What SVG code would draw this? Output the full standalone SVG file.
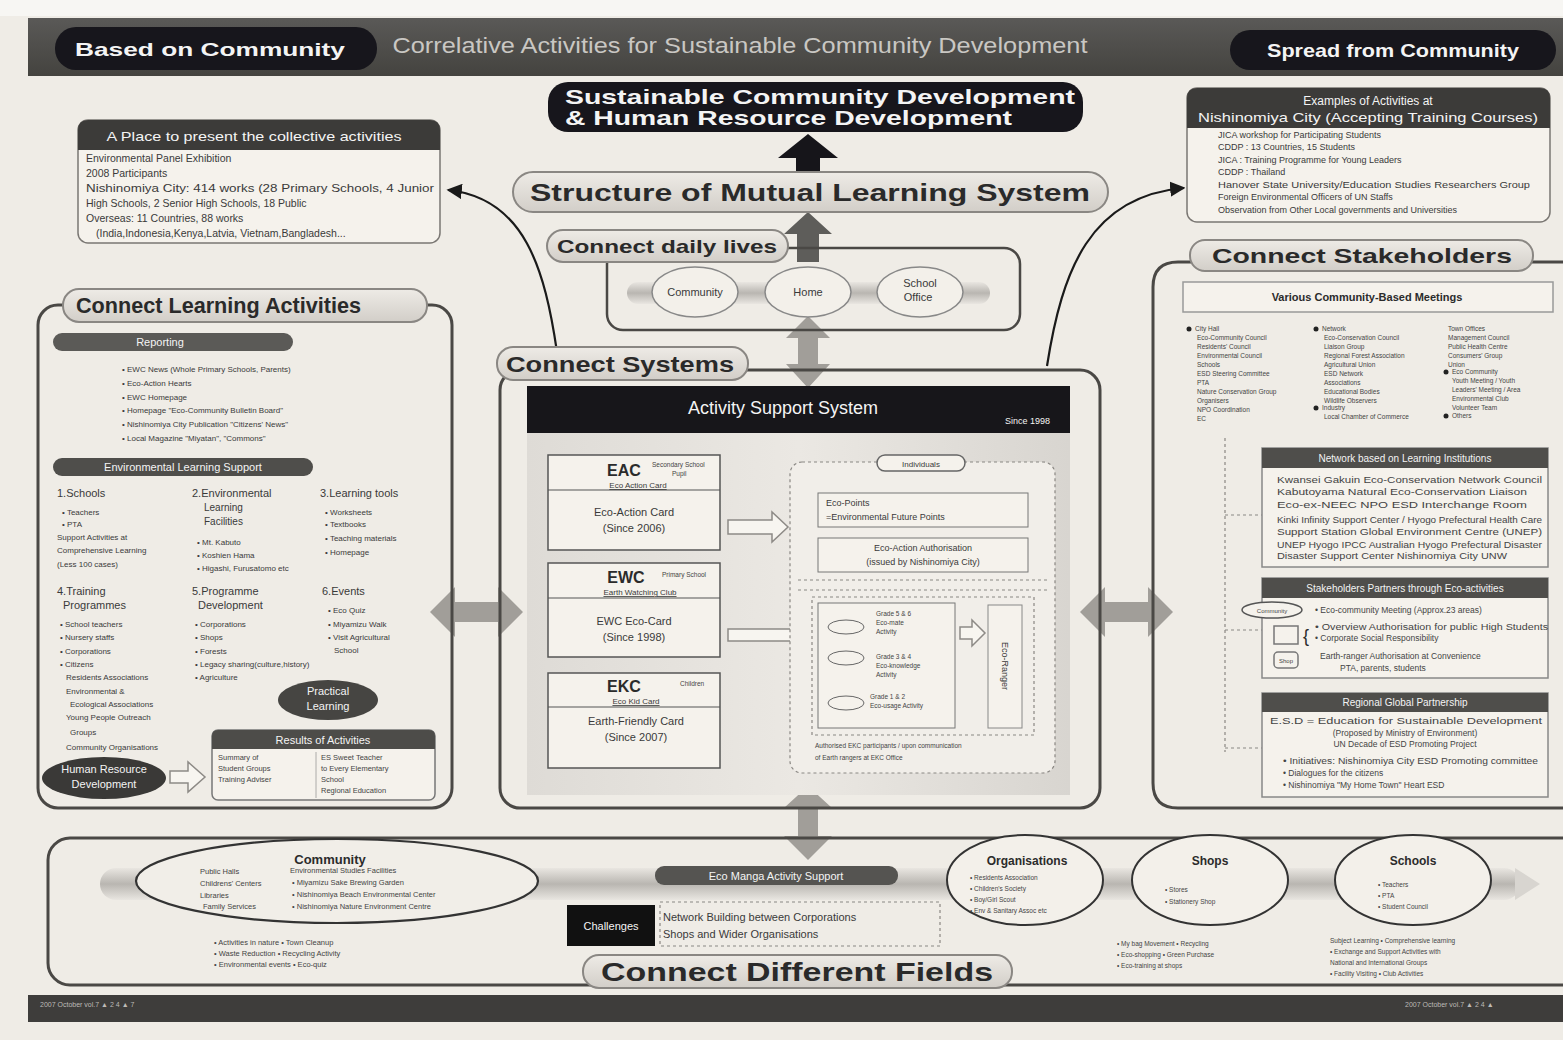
<svg xmlns="http://www.w3.org/2000/svg" width="1563" height="1040" viewBox="0 0 1563 1040">
<defs>
<style>
text{font-family:"Liberation Sans",Arial,sans-serif;fill:#2b2b2b}
.s{font-size:10px;fill:#3a3a3a}
.xs{font-size:8px;fill:#3a3a3a}
.xxs{font-size:6.5px;fill:#444}
.w{fill:#f4f4f4}
.b{font-weight:bold}
.ttl{font-weight:bold;font-size:23px;fill:#2a2a2a}
.pill{fill:url(#pillg);stroke:#8a8783;stroke-width:2}
.frame{fill:none;stroke:#4a4845;stroke-width:3}
.dark{fill:#3c3b39}
.blk{fill:#17161c}
.box{fill:#f5f2ec;stroke:#7a7773;stroke-width:1.5}
.dash{fill:none;stroke:#8a8783;stroke-width:1.2;stroke-dasharray:3 3}
.garr{fill:#a19e99}
.hollow{fill:#f7f5f0;stroke:#8d8a86;stroke-width:1.5}
.oval{fill:#f3f0ea;stroke:#555;stroke-width:2}
</style>
<linearGradient id="pillg" x1="0" y1="0" x2="0" y2="1"><stop offset="0" stop-color="#eeebe6"/><stop offset="1" stop-color="#d2cec8"/></linearGradient>
<linearGradient id="band" x1="0" y1="0" x2="0" y2="1"><stop offset="0" stop-color="#e9e6e1"/><stop offset="0.5" stop-color="#b9b6b1"/><stop offset="1" stop-color="#e9e6e1"/></linearGradient>
<linearGradient id="topbar" x1="0" y1="0" x2="0" y2="1"><stop offset="0" stop-color="#5a5957"/><stop offset="1" stop-color="#44433f"/></linearGradient>
<linearGradient id="panel" x1="0" y1="0" x2="1" y2="0"><stop offset="0" stop-color="#dedbd6"/><stop offset="0.5" stop-color="#ebe8e3"/><stop offset="1" stop-color="#d8d5d0"/></linearGradient>
<marker id="ah" viewBox="0 0 10 10" refX="9" refY="5" markerWidth="7" markerHeight="7" orient="auto"><path d="M0,0 L10,5 L0,10 z" fill="#1a1a1a"/></marker>
</defs>

<rect x="0" y="0" width="1563" height="1040" fill="#efece6"/>
<rect x="0" y="0" width="1563" height="16" fill="#f7f6f3"/>

<g id="header">
<rect x="28" y="18" width="1535" height="58" fill="url(#topbar)"/>
<rect x="55" y="27" width="322" height="43" rx="21" class="blk"/>
<text x="210" y="56" text-anchor="middle" class="w b" font-size="19" textLength="270" lengthAdjust="spacingAndGlyphs">Based on Community</text>
<text x="740" y="53" text-anchor="middle" font-size="22" style="fill:#c9c7c3" textLength="695" lengthAdjust="spacingAndGlyphs">Correlative Activities for Sustainable Community Development</text>
<rect x="1230" y="30" width="326" height="40" rx="20" class="blk"/>
<text x="1393" y="57" text-anchor="middle" class="w b" font-size="19" textLength="252" lengthAdjust="spacingAndGlyphs">Spread from Community</text>
</g>

<g id="goal">
<rect x="548" y="82" width="535" height="50" rx="20" class="blk"/>
<text x="820" y="104" text-anchor="middle" class="w b" font-size="21" textLength="510" lengthAdjust="spacingAndGlyphs">Sustainable Community Development</text>
<text x="565" y="125" class="w b" font-size="21" textLength="447" lengthAdjust="spacingAndGlyphs">&amp; Human Resource Development</text>
</g>

<g id="connectors">
<polygon points="808,134 838,158 820,158 820,176 796,176 796,158 778,158" fill="#16151a"/>
<polygon points="808,212 832,234 819,234 819,262 797,262 797,234 784,234" fill="#5e5d5a"/>
<polygon points="808,316 830,338 818,338 818,364 830,364 808,388 786,364 798,364 798,338 786,338" class="garr"/>
<polygon points="808,786 832,808 818,808 818,836 832,836 808,860 784,836 798,836 798,808 784,808" class="garr"/>
<polygon points="430,612 455,587 455,602 498,602 498,587 523,612 498,637 498,622 455,622 455,637" class="garr"/>
<polygon points="1080,612 1105,587 1105,602 1148,602 1148,587 1173,612 1148,637 1148,622 1105,622 1105,637" class="garr"/>
<path d="M557,352 C545,270 525,198 448,190" fill="none" stroke="#1a1a1a" stroke-width="2.2" marker-end="url(#ah)"/>
<path d="M1047,366 C1062,270 1090,196 1184,188" fill="none" stroke="#1a1a1a" stroke-width="2.2" marker-end="url(#ah)"/>
</g>

<g id="structure">
<rect x="513" y="172" width="595" height="40" rx="20" class="pill"/>
<text x="810" y="201" text-anchor="middle" class="ttl" style="font-size:24px" textLength="560" lengthAdjust="spacingAndGlyphs">Structure of Mutual Learning System</text>
</g>

<g id="place">
<rect x="78" y="120" width="362" height="123" rx="10" class="box"/>
<path d="M78,150 V130 Q78,120 88,120 H430 Q440,120 440,130 V150 Z" class="dark"/>
<text x="254" y="141" text-anchor="middle" class="w" font-size="13" textLength="295" lengthAdjust="spacingAndGlyphs">A Place to present the collective activities</text>
<text x="86" y="162" class="s" style="font-size:10.5px">Environmental Panel Exhibition</text>
<text x="86" y="177" class="s" style="font-size:10.5px">2008 Participants</text>
<text x="86" y="192" class="s" style="font-size:10.5px" textLength="348" lengthAdjust="spacingAndGlyphs">Nishinomiya City: 414 works (28 Primary Schools, 4 Junior</text>
<text x="86" y="207" class="s" style="font-size:10.5px">High Schools, 2 Senior High Schools,  18 Public</text>
<text x="86" y="222" class="s" style="font-size:10.5px">Overseas: 11 Countries, 88 works</text>
<text x="96" y="237" class="s" style="font-size:10.5px">(India,Indonesia,Kenya,Latvia, Vietnam,Bangladesh...</text>
</g>

<g id="examples">
<rect x="1187" y="88" width="363" height="134" rx="10" class="box"/>
<path d="M1187,128 V98 Q1187,88 1197,88 H1540 Q1550,88 1550,98 V128 Z" class="dark"/>
<text x="1368" y="105" text-anchor="middle" class="w" font-size="12">Examples of Activities at</text>
<text x="1368" y="122" text-anchor="middle" class="w" font-size="13" textLength="340" lengthAdjust="spacingAndGlyphs">Nishinomiya City  (Accepting Training Courses)</text>
<text x="1218" y="138" class="xs" style="font-size:9px">JICA workshop for Participating Students</text>
<text x="1218" y="150" class="xs" style="font-size:9px">CDDP : 13 Countries, 15 Students</text>
<text x="1218" y="163" class="xs" style="font-size:9px">JICA : Training Programme for Young Leaders</text>
<text x="1218" y="175" class="xs" style="font-size:9px">CDDP : Thailand</text>
<text x="1218" y="188" class="xs" style="font-size:9px" textLength="312" lengthAdjust="spacingAndGlyphs">Hanover State University/Education Studies Researchers Group</text>
<text x="1218" y="200" class="xs" style="font-size:9px">Foreign Environmental Officers of UN Staffs</text>
<text x="1218" y="213" class="xs" style="font-size:9px">Observation from Other Local governments and Universities</text>
</g>

<g id="daily">
<rect x="607" y="248" width="413" height="82" rx="16" class="frame" style="stroke-width:2.5"/>
<rect x="627" y="282" width="363" height="22" rx="11" fill="url(#band)"/>
<ellipse cx="695" cy="292" rx="43" ry="25" class="oval" style="stroke:#888;stroke-width:1.5"/>
<ellipse cx="808" cy="292" rx="43" ry="25" class="oval" style="stroke:#888;stroke-width:1.5"/>
<ellipse cx="920" cy="292" rx="43" ry="25" class="oval" style="stroke:#888;stroke-width:1.5"/>
<text x="695" y="296" text-anchor="middle" class="s" style="font-size:11px">Community</text>
<text x="808" y="296" text-anchor="middle" class="s" style="font-size:11px">Home</text>
<text x="920" y="287" text-anchor="middle" class="s" style="font-size:11px">School</text>
<text x="918" y="301" text-anchor="middle" class="s" style="font-size:11px">Office</text>
<rect x="547" y="230" width="241" height="32" rx="16" class="pill"/>
<text x="667" y="253" text-anchor="middle" class="ttl" style="font-size:19px" textLength="220" lengthAdjust="spacingAndGlyphs">Connect daily lives</text>
</g>

<g id="systems">
<rect x="500" y="370" width="600" height="438" rx="20" class="frame"/>
<rect x="527" y="432" width="543" height="363" fill="url(#panel)"/>
<rect x="527" y="386" width="543" height="47" fill="#17161a"/>
<text x="783" y="414" text-anchor="middle" class="w" font-size="18">Activity Support System</text>
<text x="1005" y="424" class="w" font-size="9">Since 1998</text>
<rect x="497" y="347" width="251" height="33" rx="16" class="pill"/>
<text x="620" y="372" text-anchor="middle" class="ttl" style="font-size:22px" textLength="228" lengthAdjust="spacingAndGlyphs">Connect Systems</text>

<g id="eac">
<rect x="548" y="455" width="172" height="95" class="box" style="stroke:#555"/>
<line x1="548" y1="490" x2="720" y2="490" stroke="#555" stroke-width="1.2"/>
<text x="624" y="476" text-anchor="middle" class="b" font-size="16">EAC</text>
<text x="652" y="467" class="xxs">Secondary School</text>
<text x="672" y="476" class="xxs">Pupil</text>
<text x="638" y="488" text-anchor="middle" class="xs" text-decoration="underline">Eco Action Card</text>
<text x="634" y="516" text-anchor="middle" class="s" style="font-size:11px">Eco-Action Card</text>
<text x="634" y="532" text-anchor="middle" class="s" style="font-size:11px">(Since 2006)</text>
</g>
<g id="ewc">
<rect x="548" y="563" width="172" height="94" class="box" style="stroke:#555"/>
<line x1="548" y1="598" x2="720" y2="598" stroke="#555" stroke-width="1.2"/>
<text x="626" y="583" text-anchor="middle" class="b" font-size="16">EWC</text>
<text x="662" y="577" class="xxs">Primary School</text>
<text x="640" y="595" text-anchor="middle" class="xs" text-decoration="underline">Earth Watching Club</text>
<text x="634" y="625" text-anchor="middle" class="s" style="font-size:11px">EWC Eco-Card</text>
<text x="634" y="641" text-anchor="middle" class="s" style="font-size:11px">(Since 1998)</text>
</g>
<g id="ekc">
<rect x="548" y="673" width="172" height="95" class="box" style="stroke:#555"/>
<line x1="548" y1="707" x2="720" y2="707" stroke="#555" stroke-width="1.2"/>
<text x="624" y="692" text-anchor="middle" class="b" font-size="16">EKC</text>
<text x="680" y="686" class="xxs">Children</text>
<text x="636" y="704" text-anchor="middle" class="xs" text-decoration="underline">Eco Kid Card</text>
<text x="636" y="725" text-anchor="middle" class="s" style="font-size:11px">Earth-Friendly Card</text>
<text x="636" y="741" text-anchor="middle" class="s" style="font-size:11px">(Since 2007)</text>
</g>
<polygon points="728,520 772,520 772,512 788,527 772,542 772,534 728,534" class="hollow"/>
<rect x="728" y="629" width="102" height="12" class="hollow"/>

<g id="individuals">
<rect x="790" y="462" width="265" height="311" rx="12" class="dash" style="fill:#f1eee9"/>
<rect x="877" y="455" width="88" height="16" rx="8" class="box" style="stroke:#666"/>
<text x="921" y="467" text-anchor="middle" class="xs">Individuals</text>
<rect x="818" y="493" width="210" height="34" class="box" style="stroke:#777;stroke-width:1"/>
<text x="826" y="506" class="xs" style="font-size:9px">Eco-Points</text>
<text x="826" y="520" class="xs" style="font-size:9px">=Environmental Future Points</text>
<rect x="818" y="538" width="210" height="34" class="box" style="stroke:#777;stroke-width:1"/>
<text x="923" y="551" text-anchor="middle" class="xs" style="font-size:9px">Eco-Action Authorisation</text>
<text x="923" y="565" text-anchor="middle" class="xs" style="font-size:9px">(issued by Nishinomiya City)</text>
<line x1="798" y1="580" x2="1048" y2="580" class="dash"/>
<line x1="798" y1="590" x2="1048" y2="590" class="dash"/>
<rect x="812" y="597" width="222" height="138" class="dash"/>
<rect x="818" y="603" width="137" height="125" class="box" style="stroke:#777;stroke-width:1"/>
<ellipse cx="846" cy="627" rx="18" ry="7" class="box" style="stroke:#666;stroke-width:1"/>
<ellipse cx="846" cy="658" rx="18" ry="7" class="box" style="stroke:#666;stroke-width:1"/>
<ellipse cx="846" cy="703" rx="18" ry="7" class="box" style="stroke:#666;stroke-width:1"/>
<text x="876" y="616" class="xxs">Grade 5 &amp; 6</text>
<text x="876" y="625" class="xxs">Eco-mate</text>
<text x="876" y="634" class="xxs">Activity</text>
<text x="876" y="659" class="xxs">Grade 3 &amp; 4</text>
<text x="876" y="668" class="xxs">Eco-knowledge</text>
<text x="876" y="677" class="xxs">Activity</text>
<text x="870" y="699" class="xxs">Grade 1 &amp; 2</text>
<text x="870" y="708" class="xxs">Eco-usage Activity</text>
<polygon points="960,627 972,627 972,620 985,633 972,646 972,639 960,639" class="hollow"/>
<rect x="988" y="605" width="34" height="123" class="box" style="stroke:#888;stroke-width:1"/>
<text transform="translate(1002,666) rotate(90)" text-anchor="middle" class="xs" style="font-size:9px">Eco-Ranger</text>
<text x="815" y="748" class="xxs">Authorised EKC participants / upon communication</text>
<text x="815" y="760" class="xxs">of Earth rangers at EKC Office</text>
</g>
</g>

<g id="learning">
<rect x="38" y="305" width="414" height="503" rx="20" class="frame"/>
<rect x="63" y="289" width="364" height="33" rx="16" class="pill"/>
<text x="76" y="313" class="ttl" style="font-size:22px" textLength="285" lengthAdjust="spacingAndGlyphs">Connect Learning Activities</text>
<rect x="53" y="333" width="240" height="18" rx="9" fill="#5b5a57"/>
<text x="160" y="346" text-anchor="middle" class="w" font-size="11">Reporting</text>
<text x="122" y="372" class="xs">• EWC News  (Whole Primary Schools, Parents)</text>
<text x="122" y="386" class="xs">• Eco-Action Hearts</text>
<text x="122" y="400" class="xs">• EWC Homepage</text>
<text x="122" y="413" class="xs">• Homepage "Eco-Community Bulletin Board"</text>
<text x="122" y="427" class="xs">• Nishinomiya City Publication "Citizens' News"</text>
<text x="122" y="441" class="xs">• Local Magazine "Miyatan", "Commons"</text>
<rect x="53" y="458" width="260" height="18" rx="9" fill="#4f4e4b"/>
<text x="183" y="471" text-anchor="middle" class="w" font-size="11">Environmental Learning Support</text>

<text x="57" y="497" class="s" style="font-size:11px">1.Schools</text>
<text x="62" y="515" class="xs">• Teachers</text>
<text x="62" y="527" class="xs">• PTA</text>
<text x="57" y="540" class="xs">Support Activities at</text>
<text x="57" y="553" class="xs">Comprehensive Learning</text>
<text x="57" y="567" class="xs">(Less 100 cases)</text>

<text x="192" y="497" class="s" style="font-size:11px">2.Environmental</text>
<text x="204" y="511" class="s">Learning</text>
<text x="204" y="525" class="s">Facilities</text>
<text x="197" y="545" class="xs">• Mt. Kabuto</text>
<text x="197" y="558" class="xs">• Koshien Hama</text>
<text x="197" y="571" class="xs">• Higashi, Furusatomo etc</text>

<text x="320" y="497" class="s" style="font-size:11px">3.Learning tools</text>
<text x="325" y="515" class="xs">• Worksheets</text>
<text x="325" y="527" class="xs">• Textbooks</text>
<text x="325" y="541" class="xs">• Teaching materials</text>
<text x="325" y="555" class="xs">• Homepage</text>

<text x="57" y="595" class="s" style="font-size:11px">4.Training</text>
<text x="63" y="609" class="s" style="font-size:11px">Programmes</text>
<text x="60" y="627" class="xs">• School teachers</text>
<text x="60" y="640" class="xs">• Nursery staffs</text>
<text x="60" y="654" class="xs">• Corporations</text>
<text x="60" y="667" class="xs">• Citizens</text>
<text x="66" y="680" class="xs">Residents Associations</text>
<text x="66" y="694" class="xs">Environmental &amp;</text>
<text x="70" y="707" class="xs">Ecological Associations</text>
<text x="66" y="720" class="xs">Young People Outreach</text>
<text x="70" y="735" class="xs">Groups</text>
<text x="66" y="750" class="xs">Community Organisations</text>

<text x="192" y="595" class="s" style="font-size:11px">5.Programme</text>
<text x="198" y="609" class="s" style="font-size:11px">Development</text>
<text x="195" y="627" class="xs">• Corporations</text>
<text x="195" y="640" class="xs">• Shops</text>
<text x="195" y="654" class="xs">• Forests</text>
<text x="195" y="667" class="xs">• Legacy sharing(culture,history)</text>
<text x="195" y="680" class="xs">• Agriculture</text>

<text x="322" y="595" class="s" style="font-size:11px">6.Events</text>
<text x="328" y="613" class="xs">• Eco Quiz</text>
<text x="328" y="627" class="xs">• Miyamizu Walk</text>
<text x="328" y="640" class="xs">• Visit Agricultural</text>
<text x="334" y="653" class="xs">School</text>

<ellipse cx="328" cy="700" rx="50" ry="20" fill="#464542"/>
<text x="328" y="695" text-anchor="middle" class="w" font-size="11">Practical</text>
<text x="328" y="710" text-anchor="middle" class="w" font-size="11">Learning</text>

<ellipse cx="104" cy="778" rx="62" ry="21" fill="#3a3937"/>
<text x="104" y="773" text-anchor="middle" class="w" font-size="11">Human Resource</text>
<text x="104" y="788" text-anchor="middle" class="w" font-size="11">Development</text>
<polygon points="170,771 188,771 188,762 205,777 188,792 188,783 170,783" class="hollow"/>

<rect x="212" y="730" width="223" height="70" rx="6" class="box" style="stroke:#777"/>
<path d="M212,749 V736 Q212,730 218,730 H429 Q435,730 435,736 V749 Z" fill="#4d4c49"/>
<text x="323" y="744" text-anchor="middle" class="w" font-size="11">Results of Activities</text>
<line x1="316" y1="752" x2="316" y2="798" stroke="#999" stroke-width="0.8"/>
<text x="218" y="760" class="xxs" style="font-size:7.5px">Summary of</text>
<text x="218" y="771" class="xxs" style="font-size:7.5px">Student Groups</text>
<text x="218" y="782" class="xxs" style="font-size:7.5px">Training Adviser</text>
<text x="321" y="760" class="xxs" style="font-size:7.5px">ES Sweet Teacher</text>
<text x="321" y="771" class="xxs" style="font-size:7.5px">to Every Elementary</text>
<text x="321" y="782" class="xxs" style="font-size:7.5px">School</text>
<text x="321" y="793" class="xxs" style="font-size:7.5px">Regional Education</text>
</g>

<g id="stakeholders">
<path d="M1563,262 H1178 Q1153,262 1153,287 V783 Q1153,808 1178,808 H1563" class="frame"/>
<rect x="1190" y="240" width="343" height="31" rx="15" class="pill"/>
<text x="1362" y="263" text-anchor="middle" class="ttl" style="font-size:21px" textLength="300" lengthAdjust="spacingAndGlyphs">Connect Stakeholders</text>
<rect x="1183" y="282" width="370" height="30" class="box" style="stroke:#999"/>
<text x="1367" y="301" text-anchor="middle" class="b" font-size="11" fill="#3a3a3a">Various Community-Based Meetings</text>

<g id="meetings">
<circle cx="1189" cy="329" r="2.5" fill="#222"/>
<text x="1195" y="331" class="xxs">City Hall</text>
<text x="1197" y="340" class="xxs">Eco-Community Council</text>
<text x="1197" y="349" class="xxs">Residents' Council</text>
<text x="1197" y="358" class="xxs">Environmental Council</text>
<text x="1197" y="367" class="xxs">Schools</text>
<text x="1197" y="376" class="xxs">ESD Steering Committee</text>
<text x="1197" y="385" class="xxs">PTA</text>
<text x="1197" y="394" class="xxs">Nature Conservation Group</text>
<text x="1197" y="403" class="xxs">Organisers</text>
<text x="1197" y="412" class="xxs">NPO Coordination</text>
<text x="1197" y="421" class="xxs">EC</text>
<circle cx="1316" cy="329" r="2.5" fill="#222"/>
<text x="1322" y="331" class="xxs">Network</text>
<text x="1324" y="340" class="xxs">Eco-Conservation Council</text>
<text x="1324" y="349" class="xxs">Liaison Group</text>
<text x="1324" y="358" class="xxs">Regional Forest Association</text>
<text x="1324" y="367" class="xxs">Agricultural Union</text>
<text x="1324" y="376" class="xxs">ESD Network</text>
<text x="1324" y="385" class="xxs">Associations</text>
<text x="1324" y="394" class="xxs">Educational Bodies</text>
<text x="1324" y="403" class="xxs">Wildlife Observers</text>
<circle cx="1316" cy="408" r="2.5" fill="#222"/>
<text x="1322" y="410" class="xxs">Industry</text>
<text x="1324" y="419" class="xxs">Local Chamber of Commerce</text>
<text x="1448" y="331" class="xxs">Town Offices</text>
<text x="1448" y="340" class="xxs">Management Council</text>
<text x="1448" y="349" class="xxs">Public Health Centre</text>
<text x="1448" y="358" class="xxs">Consumers' Group</text>
<text x="1448" y="367" class="xxs">Union</text>
<circle cx="1446" cy="372" r="2.5" fill="#222"/>
<text x="1452" y="374" class="xxs">Eco Community</text>
<text x="1452" y="383" class="xxs">Youth Meeting / Youth</text>
<text x="1452" y="392" class="xxs">Leaders' Meeting / Area</text>
<text x="1452" y="401" class="xxs">Environmental Club</text>
<text x="1452" y="410" class="xxs">Volunteer Team</text>
<circle cx="1446" cy="416" r="2.5" fill="#222"/>
<text x="1452" y="418" class="xxs">Others</text>
</g>

<line x1="1225" y1="438" x2="1225" y2="752" class="dash"/>
<line x1="1225" y1="515" x2="1262" y2="515" class="dash"/>
<line x1="1225" y1="630" x2="1262" y2="630" class="dash"/>
<line x1="1225" y1="748" x2="1262" y2="748" class="dash"/>

<g id="net">
<rect x="1262" y="448" width="286" height="119" class="box" style="stroke:#888"/>
<rect x="1262" y="448" width="286" height="20" fill="#4f4e4b"/>
<text x="1405" y="462" text-anchor="middle" class="w" font-size="10">Network based on Learning Institutions</text>
<text x="1277" y="483" class="xxs" style="font-size:9.5px" textLength="265" lengthAdjust="spacingAndGlyphs">Kwansei Gakuin Eco-Conservation Network Council</text>
<text x="1277" y="495" class="xxs" style="font-size:9.5px" textLength="250" lengthAdjust="spacingAndGlyphs">Kabutoyama Natural Eco-Conservation Liaison</text>
<text x="1277" y="508" class="xxs" style="font-size:9.5px" textLength="250" lengthAdjust="spacingAndGlyphs">Eco-ex-NEEC   NPO   ESD Interchange Room</text>
<text x="1277" y="523" class="xxs" style="font-size:9.5px" textLength="265" lengthAdjust="spacingAndGlyphs">Kinki Infinity Support Center / Hyogo Prefectural Health Care</text>
<text x="1277" y="535" class="xxs" style="font-size:9.5px" textLength="265" lengthAdjust="spacingAndGlyphs">Support Station  Global Environment Centre (UNEP)</text>
<text x="1277" y="548" class="xxs" style="font-size:9.5px" textLength="265" lengthAdjust="spacingAndGlyphs">UNEP Hyogo  IPCC Australian  Hyogo Prefectural Disaster</text>
<text x="1277" y="559" class="xxs" style="font-size:9.5px" textLength="230" lengthAdjust="spacingAndGlyphs">Disaster Support Center  Nishinomiya City  UNW</text>
</g>
<g id="partners">
<rect x="1262" y="578" width="286" height="100" class="box" style="stroke:#888"/>
<rect x="1262" y="578" width="286" height="20" fill="#4f4e4b"/>
<text x="1405" y="592" text-anchor="middle" class="w" font-size="10">Stakeholders Partners through Eco-activities</text>
<ellipse cx="1272" cy="610" rx="30" ry="8" class="box" style="stroke:#555"/>
<text x="1272" y="613" text-anchor="middle" class="xxs" style="font-size:6px">Community</text>
<text x="1315" y="613" class="xxs" style="font-size:8.5px">• Eco-community Meeting  (Approx.23 areas)</text>
<rect x="1274" y="626" width="24" height="18" class="box" style="stroke:#777"/>
<text x="1303" y="642" font-size="18" fill="#444">{</text>
<text x="1315" y="630" class="xxs" style="font-size:8.5px" textLength="233" lengthAdjust="spacingAndGlyphs">• Overview Authorisation for public High Students</text>
<text x="1315" y="641" class="xxs" style="font-size:8.5px">• Corporate Social Responsibility</text>
<rect x="1274" y="652" width="24" height="16" rx="4" class="box" style="stroke:#777"/>
<text x="1286" y="663" text-anchor="middle" class="xxs" style="font-size:6px">Shop</text>
<text x="1320" y="659" class="xxs" style="font-size:8.5px">Earth-ranger Authorisation at Convenience</text>
<text x="1340" y="671" class="xxs" style="font-size:8.5px">PTA, parents, students</text>
</g>
<g id="global">
<rect x="1262" y="693" width="286" height="104" class="box" style="stroke:#888"/>
<rect x="1262" y="693" width="286" height="19" fill="#4f4e4b"/>
<text x="1405" y="706" text-anchor="middle" class="w" font-size="10">Regional Global Partnership</text>
<text x="1270" y="724" class="xxs" style="font-size:9.5px" textLength="272" lengthAdjust="spacingAndGlyphs">E.S.D = Education for Sustainable Development</text>
<text x="1405" y="736" text-anchor="middle" class="xxs" style="font-size:8.5px">(Proposed by Ministry of Environment)</text>
<text x="1405" y="747" text-anchor="middle" class="xxs" style="font-size:8.5px">UN Decade of ESD Promoting Project</text>
<text x="1283" y="764" class="xxs" style="font-size:8.5px" textLength="255" lengthAdjust="spacingAndGlyphs">• Initiatives: Nishinomiya City ESD Promoting committee</text>
<text x="1283" y="776" class="xxs" style="font-size:8.5px">• Dialogues for the citizens</text>
<text x="1283" y="788" class="xxs" style="font-size:8.5px">• Nishinomiya "My Home Town" Heart ESD</text>
</g>
</g>

<g id="fields">
<rect x="48" y="838" width="1535" height="147" rx="22" class="frame"/>
<rect x="100" y="868" width="1420" height="32" rx="16" fill="url(#band)"/>
<polygon points="1515,868 1540,884 1515,900" fill="#d8d5d0"/>

<g id="community">
<ellipse cx="337" cy="881" rx="201" ry="42" class="oval" style="fill:#f1eee8;stroke:#333;stroke-width:2.2"/>
<text x="330" y="864" text-anchor="middle" class="b" font-size="13">Community</text>
<text x="200" y="874" class="xxs" style="font-size:7.5px">Public Halls</text>
<text x="200" y="886" class="xxs" style="font-size:7.5px">Childrens' Centers</text>
<text x="200" y="898" class="xxs" style="font-size:7.5px">Libraries</text>
<text x="203" y="909" class="xxs" style="font-size:7.5px">Family Services</text>
<text x="290" y="873" class="xxs" style="font-size:7.5px">Environmental Studies Facilities</text>
<text x="292" y="885" class="xxs" style="font-size:7.5px">• Miyamizu Sake Brewing Garden</text>
<text x="292" y="897" class="xxs" style="font-size:7.5px">• Nishinomiya Beach Environmental Center</text>
<text x="292" y="909" class="xxs" style="font-size:7.5px">• Nishinomiya Nature Environment Centre</text>
<text x="214" y="945" class="xxs" style="font-size:7.5px">• Activities in nature    • Town Cleanup</text>
<text x="214" y="956" class="xxs" style="font-size:7.5px">• Waste Reduction       • Recycling Activity</text>
<text x="214" y="967" class="xxs" style="font-size:7.5px">• Environmental events   • Eco-quiz</text>
</g>

<rect x="655" y="866" width="243" height="19" rx="9" fill="#555451"/>
<text x="776" y="880" text-anchor="middle" class="w" font-size="11">Eco Manga Activity Support</text>
<rect x="660" y="902" width="280" height="44" class="dash"/>
<rect x="567" y="905" width="88" height="41" fill="#111"/>
<text x="611" y="930" text-anchor="middle" class="w" font-size="11">Challenges</text>
<text x="663" y="921" class="s" style="font-size:11px">Network Building between Corporations</text>
<text x="663" y="938" class="s" style="font-size:11px">Shops and Wider Organisations</text>

<g id="orgs">
<ellipse cx="1025" cy="880" rx="78" ry="45" class="oval" style="stroke:#333"/>
<text x="1027" y="865" text-anchor="middle" class="b" font-size="12">Organisations</text>
<text x="970" y="880" class="xxs">• Residents Association</text>
<text x="970" y="891" class="xxs">• Children's Society</text>
<text x="970" y="902" class="xxs">• Boy/Girl Scout</text>
<text x="970" y="913" class="xxs">• Env &amp; Sanitary Assoc etc</text>
</g>
<g id="shops">
<ellipse cx="1210" cy="880" rx="78" ry="45" class="oval" style="stroke:#333"/>
<text x="1210" y="865" text-anchor="middle" class="b" font-size="12">Shops</text>
<text x="1165" y="892" class="xxs">• Stores</text>
<text x="1165" y="904" class="xxs">• Stationery Shop</text>
<text x="1117" y="946" class="xxs">• My bag Movement      • Recycling</text>
<text x="1117" y="957" class="xxs">• Eco-shopping      • Green Purchase</text>
<text x="1117" y="968" class="xxs">• Eco-training at shops</text>
</g>
<g id="schools">
<ellipse cx="1413" cy="880" rx="78" ry="45" class="oval" style="stroke:#333"/>
<text x="1413" y="865" text-anchor="middle" class="b" font-size="12">Schools</text>
<text x="1378" y="887" class="xxs">• Teachers</text>
<text x="1378" y="898" class="xxs">• PTA</text>
<text x="1378" y="909" class="xxs">• Student Council</text>
<text x="1330" y="943" class="xxs">Subject Learning • Comprehensive learning</text>
<text x="1330" y="954" class="xxs">• Exchange and Support Activities with</text>
<text x="1330" y="965" class="xxs">National and International Groups</text>
<text x="1330" y="976" class="xxs">• Facility Visiting     • Club Activities</text>
</g>

<rect x="583" y="955" width="429" height="33" rx="16" class="pill"/>
<text x="797" y="981" text-anchor="middle" class="ttl" style="font-size:25px" textLength="392" lengthAdjust="spacingAndGlyphs">Connect Different Fields</text>
</g>

<g id="footer">
<rect x="28" y="995" width="1535" height="27" fill="#3e3d3b"/>
<text x="40" y="1007" font-size="7" style="fill:#bdbbb7">2007 October  vol.7   ▲ 2 4 ▲  7</text>
<text x="1405" y="1007" font-size="7" style="fill:#bdbbb7">2007 October  vol.7   ▲ 2 4 ▲</text>
</g>
</svg>
